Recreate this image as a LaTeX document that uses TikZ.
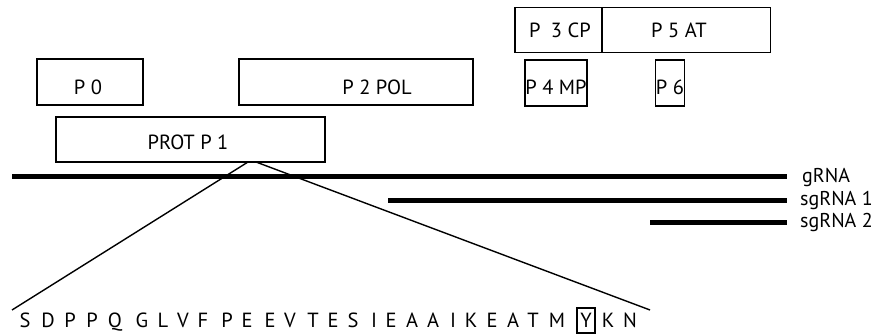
\documentclass[tikz,border=0pt]{standalone}
\usepackage{fontspec}
\setmainfont{PT Sans}
\begin{document}
\begin{tikzpicture}[x=1pt,y=-1pt,
  gene/.style={draw, line width=1.3pt, inner sep=0pt, rectangle},
  boxlabel/.style={anchor=base, inner sep=0pt, font=\fontsize{20.5}{24}\selectfont},
  rna/.style={line width=5pt},
  rnalabel/.style={anchor=base west, inner sep=0pt, font=\fontsize{20}{24}\selectfont},
  zoomline/.style={line width=1.4pt},
  aa/.style={inner sep=0pt, text height=14pt, text depth=0pt, font=\fontsize{20.5}{24}\selectfont},
  aabox/.style={aa, draw, line width=1.1pt, minimum width=18pt, minimum height=25pt}
]
\useasboundingbox (0,0) rectangle (877,336);
% genes
\node[gene, minimum width=106pt, minimum height=46pt] (p0) at (90,82) {};
\node[gene, minimum width=234pt, minimum height=46pt] (p2) at (356,82) {};
\node[gene, minimum width=269pt, minimum height=45pt] (p1) at (190.5,139.5) {};
\node[gene, minimum width=87pt, minimum height=45pt] (p3) at (558.5,30) {};
\node[gene, minimum width=169pt, minimum height=45pt] (p5) at (686,30) {};
\node[gene, minimum width=62pt, minimum height=46pt] (p4) at (556,83) {};
\node[gene, minimum width=29pt, minimum height=46pt] (p6) at (670,83) {};
\node[boxlabel] (t0) at (88,94.5) {P 0};
\node[boxlabel] (t2) at (377,95) {P 2 POL};
\node[boxlabel] (t1) at (188,150) {PROT P 1};
\node[boxlabel] (t3) at (560,38) {P\hspace{0.5em}3 CP};
\node[boxlabel] (t5) at (679,38) {P 5 AT};
\node[boxlabel] (t4) at (556,95) {P 4 MP};
\node[boxlabel] (t6) at (670,95) {P 6};
% RNA lines
\coordinate (g1) at (12,177);
\coordinate (g2) at (787,177);
\coordinate (s1a) at (388,201);
\coordinate (s1b) at (787,201);
\coordinate (s2a) at (650,223);
\coordinate (s2b) at (787,223);
\draw[rna] (g1) -- (g2);
\draw[rna] (s1a) -- (s1b);
\draw[rna] (s2a) -- (s2b);
\node[rnalabel] (lg) at (802,183) {gRNA};
\node[rnalabel] (ls1) at (800,206) {sgRNA 1};
\node[rnalabel] (ls2) at (800,228) {sgRNA 2};
% zoom lines
\coordinate (zl) at (248,162);
\coordinate (zr) at (256,162);
\coordinate (el) at (12,310);
\coordinate (er) at (650,310);
\draw[zoomline] (zl) -- (el);
\draw[zoomline] (zr) -- (er);
% sequence
\foreach \x/\c [count=\i] in {25/S,48/D,70/P,92/P,115/Q,142/G,163/L,183/V,203/F,227/P,247/E,270/E,290/V,313/T,333/E,353/S,374/I,391/E,412/A,433/A,453/I,471/K,492/E,513/A,533/T,557/M}
  \node[aa] (a\i) at (\x,320) {\c};
\node[aabox] (ay) at (586,320.5) {Y};
\node[aa] (ak) at (608,320) {K};
\node[aa] (an) at (630,320) {N};
\end{tikzpicture}
\end{document}
